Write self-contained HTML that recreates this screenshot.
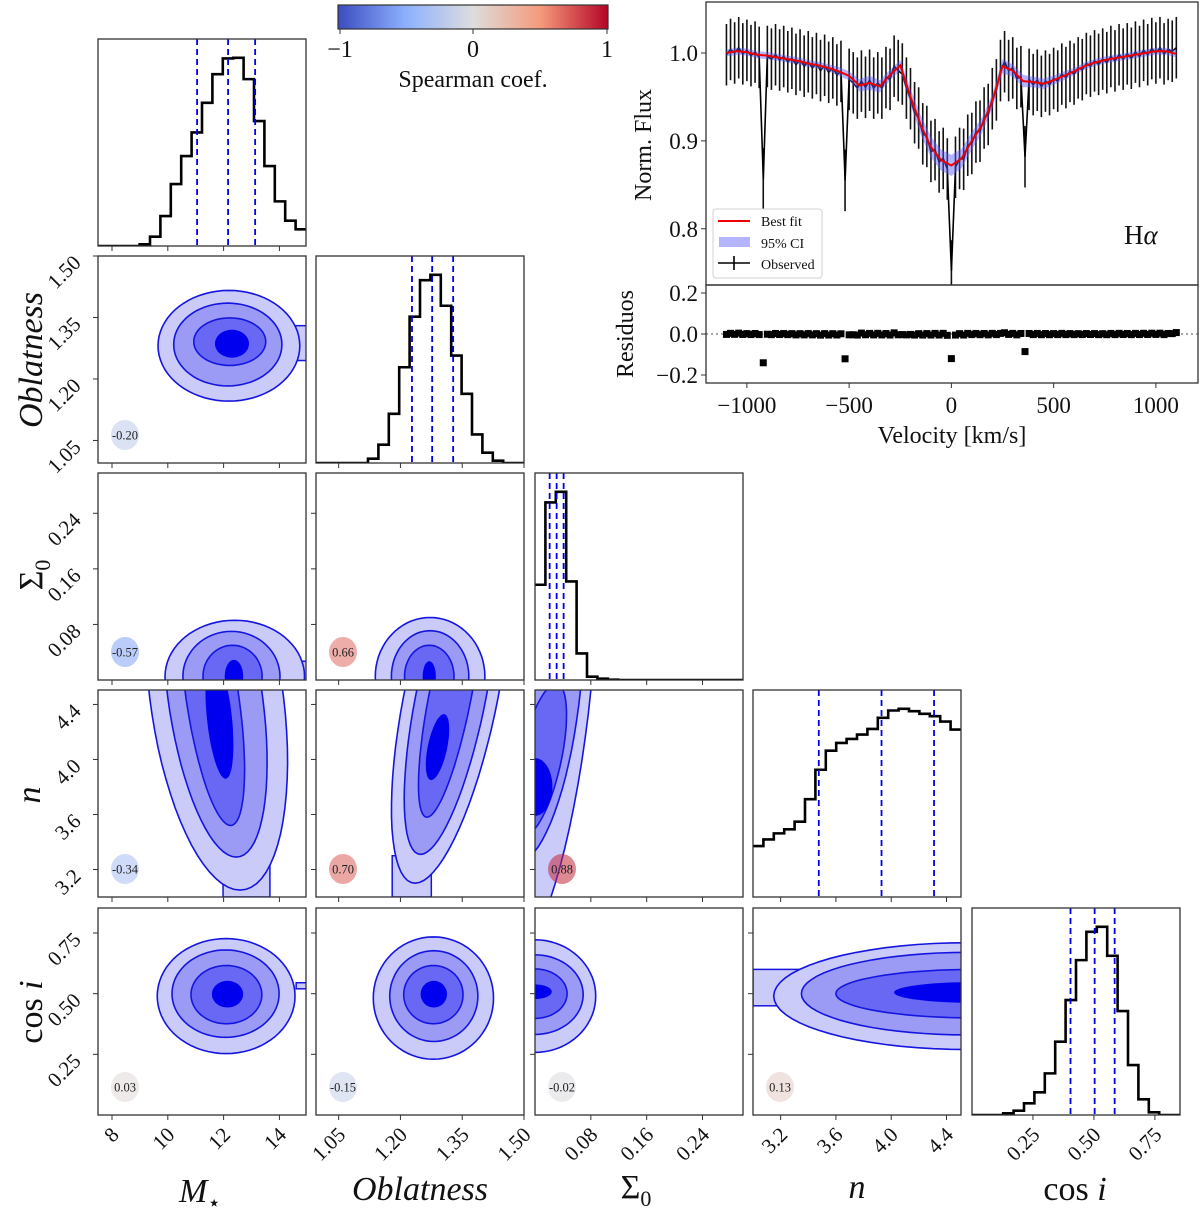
<!DOCTYPE html>
<html><head><meta charset="utf-8"><title>Corner plot</title>
<style>
html,body{margin:0;padding:0;background:#fff;}
svg{display:block;font-family:"Liberation Serif","DejaVu Serif",serif;}
</style></head>
<body>
<svg id="chart" xmlns="http://www.w3.org/2000/svg" width="1200" height="1209" viewBox="0 0 1200 1209">
<defs>
<linearGradient id="cwgrad" x1="0" x2="1" y1="0" y2="0">
<stop offset="0" stop-color="#3b4cc0"/><stop offset="0.25" stop-color="#8db0fe"/><stop offset="0.5" stop-color="#dddddd"/><stop offset="0.75" stop-color="#f49a7b"/><stop offset="1" stop-color="#b40426"/>
</linearGradient>
</defs>
</svg>
<script>
// ---------------- DATA ----------------
const params = ['mstar','obl','sig','n','cosi'];
const domMstar = [7.498, 14.953];
const domObl = [0.995, 1.5];
const domSig = [0.0, 0.298];
const domN = [3.0, 4.505];
const domCosi = [0.0, 0.853];

const histMstar = [0,0,0,0,5,28,90,186,270,341,430,516,563,565,501,375,240,134,76,50];
const histObl = [0,0,0,0,0,13,55,148,288,440,550,566,473,323,208,86,31,7,0,0];
const histSig = [287,535,567,297,80,10,4,1,0,0,0,0,0,0,0,0,0,0,0,0];
const histN = [152,172,190,202,225,292,380,437,460,472,485,502,535,557,562,555,547,540,524,500];
const histCosi = [0,0,0,5,13,35,68,125,220,345,465,550,565,478,312,150,47,8,0,0];

const qMstar = [11.05, 12.16, 13.13];
const qObl = [1.228, 1.277, 1.328];
const qSig = [0.021, 0.031, 0.041];
const qN = [3.476, 3.93, 4.31];
const qCosi = [0.404, 0.503, 0.585];

const ticksMstar = [8,10,12,14];
const tickLabelsMstar = ['8','10','12','14'];
const ticksObl = [1.05,1.20,1.35,1.50];
const tickLabelsObl = ['1.05','1.20','1.35','1.50'];
const ticksSig = [0.08,0.16,0.24];
const tickLabelsSig = ['0.08','0.16','0.24'];
const ticksN = [3.2,3.6,4.0,4.4];
const tickLabelsN = ['3.2','3.6','4.0','4.4'];
const ticksCosi = [0.25,0.50,0.75];
const tickLabelsCosi = ['0.25','0.50','0.75'];

// contour levels: [cx, cy, rx, ry, shear] outer -> core (data units)
const contMstarObl = [[12.19,1.281,2.54,0.135,0],[12.15,1.284,1.94,0.101,0],[12.22,1.291,1.29,0.058,0],[12.3,1.286,0.61,0.034,0]];
const tailMstarObl = [14.2,15.0,1.245,1.33];
const contMstarSig = [[12.4,0.005,2.5,0.081,0],[12.28,0.005,1.74,0.065,0],[12.32,0.005,1.06,0.045,0],[12.37,0.005,0.33,0.024,0]];
const tailMstarSig = [14.3,15.0,0.0,0.027];
const contOblSig = [[1.272,0.005,0.133,0.085,0],[1.272,0.005,0.094,0.066,0],[1.27,0.005,0.06,0.045,0],[1.27,0.005,0.016,0.022,0]];
const contMstarN = [[11.75,4.45,2.4,1.4,-0.6],[11.7,4.45,1.7,1.16,-0.65],[11.6,4.45,0.95,0.93,-0.7],[11.85,4.3,0.45,0.44,-0.5]];
const tailMstarN = [11.98,13.66,3.0,3.4];
const contOblN = [[1.322,4.45,0.115,1.35,0.064],[1.322,4.45,0.086,1.14,0.064],[1.32,4.45,0.052,0.87,0.064],[1.29,4.09,0.024,0.24,0.064]];
const tailOblN = [1.18,1.275,3.0,3.3];
const contSigN = [[0.0,4.5,0.08,2.0,0.02],[0.0,4.5,0.065,1.25,0.02],[0.008,4.0,0.03,0.55,0.04],[0.0,3.8,0.025,0.21,0]];
const contMstarCosi = [[12.09,0.49,2.47,0.237,0],[12.07,0.50,1.92,0.18,0],[12.1,0.496,1.27,0.12,0],[12.14,0.498,0.56,0.055,0]];
const tailMstarCosi = [14.6,15.0,0.52,0.545];
const contOblCosi = [[1.28,0.482,0.146,0.252,0],[1.281,0.49,0.107,0.187,0],[1.28,0.496,0.072,0.12,0],[1.281,0.498,0.032,0.055,0]];
const contSigCosi = [[0,0.49,0.087,0.232,0],[0,0.496,0.069,0.164,0],[0,0.5,0.046,0.102,0],[0,0.508,0.024,0.03,0]];
const contNCosi = [[4.55,0.49,1.4,0.22,0],[4.55,0.5,1.2,0.17,0],[4.6,0.5,1.0,0.1,0],[4.6,0.505,0.58,0.043,0]];
const tailNCosi = [3.0,3.7,0.45,0.60];

const corrValues = [-0.20,-0.57,0.66,-0.34,0.70,0.88,0.03,-0.15,-0.02,0.13];

// spectrum
const modelVel = [-1100,-1050,-1000,-950,-900,-850,-800,-750,-700,-650,-600,-550,-500,-450,-400,-350,-300,-250,-200,-150,-100,-50,0,50,100,150,200,250,300,350,400,450,500,550,600,650,700,750,800,850,900,950,1000,1050,1100];
const modelFlux = [1.000,1.002,1.001,0.998,0.997,0.995,0.993,0.991,0.988,0.986,0.983,0.979,0.974,0.963,0.966,0.962,0.975,0.986,0.950,0.918,0.893,0.878,0.872,0.880,0.900,0.918,0.945,0.985,0.980,0.968,0.967,0.965,0.969,0.974,0.979,0.985,0.989,0.992,0.994,0.996,0.998,1.000,1.002,1.002,0.999];
const ciHalf = [0.004,0.004,0.004,0.004,0.004,0.004,0.004,0.004,0.004,0.004,0.004,0.005,0.005,0.007,0.008,0.007,0.006,0.006,0.009,0.011,0.012,0.012,0.012,0.011,0.010,0.009,0.008,0.008,0.007,0.007,0.006,0.006,0.005,0.005,0.004,0.004,0.004,0.004,0.004,0.004,0.004,0.004,0.004,0.004,0.004];
const obsFlux = [0.998,1.004,1.000,1.006,0.999,1.003,0.997,1.001,0.995,0.857,0.996,0.993,0.998,0.992,0.996,0.990,0.994,0.987,0.992,0.985,0.990,0.983,0.988,0.980,0.986,0.978,0.983,0.975,0.979,0.855,0.970,0.966,0.960,0.968,0.961,0.969,0.960,0.966,0.960,0.972,0.970,0.985,0.980,0.976,0.960,0.948,0.932,0.926,0.908,0.905,0.888,0.890,0.876,0.880,0.868,0.752,0.870,0.880,0.879,0.895,0.897,0.910,0.911,0.926,0.930,0.948,0.958,0.980,0.990,0.980,0.983,0.971,0.973,0.882,0.970,0.964,0.969,0.962,0.968,0.964,0.971,0.968,0.976,0.972,0.979,0.976,0.983,0.981,0.988,0.985,0.991,0.987,0.993,0.989,0.996,0.991,0.998,0.993,0.999,0.994,1.001,0.996,1.003,0.998,1.005,1.000,1.006,0.999,1.004,1.002,1.006];
const obsVelStart = -1100, obsVelStep = 20;
const obsErr = 0.035;

// ---------------- HELPERS ----------------
const NS = 'http://www.w3.org/2000/svg';
const svg = document.getElementById('chart');
function el(tag, attrs, parent){
  const e = document.createElementNS(NS, tag);
  for (const k in attrs) e.setAttribute(k, attrs[k]);
  (parent || svg).appendChild(e);
  return e;
}
function lin(d0,d1,r0,r1){ return v => r0 + (v-d0)/(d1-d0)*(r1-r0); }
const doms = {mstar:domMstar, obl:domObl, sig:domSig, n:domN, cosi:domCosi};
const hists = {mstar:histMstar, obl:histObl, sig:histSig, n:histN, cosi:histCosi};
const quants = {mstar:qMstar, obl:qObl, sig:qSig, n:qN, cosi:qCosi};
const ticks = {mstar:ticksMstar, obl:ticksObl, sig:ticksSig, n:ticksN, cosi:ticksCosi};
const tickLabels = {mstar:tickLabelsMstar, obl:tickLabelsObl, sig:tickLabelsSig, n:tickLabelsN, cosi:tickLabelsCosi};
const colX = [98,316,535,753,972];
const rowY = [39,256,473,690,908];
const W = 208, H = 207;
const sx = (p,c) => lin(doms[p][0], doms[p][1], colX[c], colX[c]+W);
const sy = (p,r) => lin(doms[p][0], doms[p][1], rowY[r]+H, rowY[r]);
const levelFill = ['#cbcbfa','#9b9bf5','#6868f5','#0000ee'];
const lineCol = '#1515e0';

function coolwarm(v){
  const stops = [[-1,[59,76,192]],[-0.5,[141,176,254]],[0,[221,221,221]],[0.5,[244,154,123]],[1,[180,4,38]]];
  for (let i=0;i<stops.length-1;i++){
    const [a,ca] = stops[i], [b,cb] = stops[i+1];
    if (v>=a && v<=b){
      const t=(v-a)/(b-a);
      return 'rgb('+ca.map((c,j)=>Math.round(c+(cb[j]-c)*t)).join(',')+')';
    }
  }
  return 'rgb(221,221,221)';
}

// ---------------- COLORBAR ----------------
const cb = el('g', {});


const cbr = el('rect', {x:338, y:5, width:270, height:24, fill:'url(#cwgrad)', stroke:'#333', 'stroke-width':1.2}, cb);


[['−1',340],['0',473],['1',607]].forEach(([t,x])=>{
  el('line', {x1:x, y1:29, x2:x, y2:34, stroke:'#333', 'stroke-width':1}, cb);
  const tx = el('text', {x:x, y:57, 'font-size':24, 'text-anchor':'middle', fill:'#111'}, cb);
  tx.textContent = t;
  
  
});
const cbt = el('text', {x:473, y:87, 'font-size':24, 'text-anchor':'middle', fill:'#111'}, cb);
cbt.textContent = 'Spearman coef.';



// ---------------- CORNER PANELS ----------------
function panelFrame(r,c,g){
  const f = el('rect', {x:colX[c], y:rowY[r], width:W, height:H, fill:'none', stroke:'#333', 'stroke-width':1.3}, g);
  
  
}
function addClip(r,c){
  const id = 'clip'+r+'_'+c;
  const cp = el('clipPath', {id:id});
  el('rect', {x:colX[c], y:rowY[r], width:W, height:H}, cp);
  return 'url(#'+id+')';
}
function drawTicks(r,c,g){
  const px = params[c], xs = sx(px,c);
  ticks[px].forEach(v=>{
    const x = xs(v);
    el('line', {x1:x, y1:rowY[r]+H, x2:x, y2:rowY[r]+H+5, stroke:'#333', 'stroke-width':1}, g);
  });
  if (r!==c){
    const py = params[r], ys = sy(py,r);
    ticks[py].forEach(v=>{
      const y = ys(v);
      el('line', {x1:colX[c]-5, y1:y, x2:colX[c], y2:y, stroke:'#333', 'stroke-width':1}, g);
    });
  }
  if (r===4){
    ticks[px].forEach((v,i)=>{
      const x = xs(v);
      const t = el('text', {x:x+8, y:1136, 'font-size':21, 'text-anchor':'end', fill:'#111', transform:'rotate(-45 '+(x+8)+' 1136)'}, g);
      t.textContent = tickLabels[px][i];
      
      
    });
  }
  if (c===0 && r>0){
    const py = params[r], ys = sy(py,r);
    ticks[py].forEach((v,i)=>{
      const y = ys(v)+8;
      const t = el('text', {x:82, y:y, 'font-size':21, 'text-anchor':'end', fill:'#111', transform:'rotate(-45 82 '+y+')'}, g);
      t.textContent = tickLabels[py][i];
      
      
    });
  }
}

// histograms
params.forEach((p,i)=>{
  const g = el('g', {});
  
  
  const xs = sx(p,i);
  const h = hists[p];
  const mx = Math.max(...h)*1.1;
  const ys = lin(0, mx, rowY[i]+H, rowY[i]);
  const d0 = doms[p][0], bw = (doms[p][1]-doms[p][0])/h.length;
  let d = 'M'+xs(d0)+','+ys(h[0]);
  h.forEach((v,k)=>{
    d += ' H'+xs(d0+k*bw)+' V'+ys(v)+' H'+xs(d0+(k+1)*bw);
  });
  const clip = addClip(i,i);
  const path = el('path', {d:d, fill:'none', stroke:'#000', 'stroke-width':2.6, 'clip-path':clip}, g);
  
  
  quants[p].forEach(q=>{
    const x = xs(q);
    const ln = el('line', {x1:x, y1:rowY[i], x2:x, y2:rowY[i]+H, stroke:'#0000ee', 'stroke-width':1.8, 'stroke-dasharray':'6,4'}, g);
    
    
  });
  panelFrame(i,i,g);
  drawTicks(i,i,g);
});

// contour panels
const pairs = [
  {r:1,c:0,lv:contMstarObl,tail:tailMstarObl},
  {r:2,c:0,lv:contMstarSig,tail:tailMstarSig},
  {r:2,c:1,lv:contOblSig,tail:null},
  {r:3,c:0,lv:contMstarN,tail:tailMstarN},
  {r:3,c:1,lv:contOblN,tail:tailOblN},
  {r:3,c:2,lv:contSigN,tail:null},
  {r:4,c:0,lv:contMstarCosi,tail:tailMstarCosi},
  {r:4,c:1,lv:contOblCosi,tail:null},
  {r:4,c:2,lv:contSigCosi,tail:null},
  {r:4,c:3,lv:contNCosi,tail:tailNCosi}
];
pairs.forEach((pp,idx)=>{
  const {r,c,lv,tail} = pp;
  const g = el('g', {});
  
  
  const xs = sx(params[c],c), ys = sy(params[r],r);
  const clip = addClip(r,c);
  const cg = el('g', {'clip-path':clip}, g);
  if (tail){
    const tr = el('rect', {x:xs(tail[0]), y:ys(tail[3]), width:xs(tail[1])-xs(tail[0]), height:ys(tail[2])-ys(tail[3]), fill:levelFill[0], stroke:lineCol, 'stroke-width':1.5}, cg);
    
    
  }
  lv.forEach((L,k)=>{
    const [cx,cy,rx,ry,sh] = L;
    let d = '';
    for (let s=0;s<=72;s++){
      const t = s/72*2*Math.PI;
      const yv = cy + ry*Math.sin(t);
      const xv = cx + rx*Math.cos(t) + sh*(yv-cy);
      d += (s===0?'M':'L')+xs(xv).toFixed(1)+','+ys(yv).toFixed(1);
    }
    d += 'Z';
    const pth = el('path', {d:d, fill:levelFill[k], stroke:k===3?'none':lineCol, 'stroke-width':1.6}, cg);
    
    
  });
  const v = corrValues[idx];
  const bx = colX[c]+27, by = rowY[r]+H-28;
  const circ = el('ellipse', {cx:bx, cy:by, rx:14, ry:15, fill:coolwarm(v), 'fill-opacity':0.55}, g);
  
  
  const ct = el('text', {x:bx, y:by+4.5, 'font-size':12.5, 'text-anchor':'middle', fill:'#222'}, g);
  ct.textContent = v.toFixed(2);
  
  
  panelFrame(r,c,g);
  drawTicks(r,c,g);
});

// axis titles
function title(x,y,parts,rot,name){
  const t = el('text', {x:x, y:y, 'font-size':34, 'text-anchor':'middle', fill:'#111'});
  if (rot) t.setAttribute('transform','rotate(-90 '+x+' '+y+')');
  parts.forEach(([txt,style])=>{
    const s = el('tspan', {}, t);
    if (style==='i') s.setAttribute('font-style','italic');
    if (style==='sub'){ s.setAttribute('font-size','22'); s.setAttribute('dy','8'); }
    s.textContent = txt;
  });
  
  
}
title(200,1202,[['M','i'],['⋆','sub']],false,'x-axis-title-mstar');
title(420,1200,[['Oblatness','i']],false,'x-axis-title-oblatness');
title(636,1198,[['Σ',''],['0','sub']],false,'x-axis-title-sigma0');
title(857,1198,[['n','i']],false,'x-axis-title-n');
title(1075,1200,[['cos ',''],['i','i']],false,'x-axis-title-cosi');
title(42,360,[['Oblatness','i']],true,'y-axis-title-oblatness');
title(42,575,[['Σ',''],['0','sub']],true,'y-axis-title-sigma0');
title(40,795,[['n','i']],true,'y-axis-title-n');
title(42,1012,[['cos ',''],['i','i']],true,'y-axis-title-cosi');

// ---------------- SPECTRUM ----------------
const spec = el('g', {});


const SX0=706, SX1=1198, SY0=2, SY1=285, RY1=383;
const vx = lin(-1200, 1206, SX0, SX1);
const fy = lin(0.736, 1.058, SY1, SY0);
const rsy = lin(-0.239, 0.239, RY1, SY1);
const scp = el('clipPath', {id:'specclip'});
el('rect', {x:SX0, y:SY0, width:SX1-SX0, height:SY1-SY0}, scp);
const sg = el('g', {'clip-path':'url(#specclip)'}, spec);
const obsVel = obsFlux.map((_,i)=>obsVelStart+i*obsVelStep);
obsFlux.forEach((f,i)=>{
  const x = vx(obsVel[i]);
  const eb = el('line', {x1:x, y1:fy(f-obsErr), x2:x, y2:fy(f+obsErr), stroke:'#111', 'stroke-width':1.6}, sg);
  
  
});
const obsLine = el('path', {d:obsFlux.map((f,i)=>(i?'L':'M')+vx(obsVel[i]).toFixed(1)+','+fy(f).toFixed(1)).join(''), fill:'none', stroke:'#000', 'stroke-width':1.6}, sg);


let band = modelVel.map((v,i)=>(i?'L':'M')+vx(v).toFixed(1)+','+fy(modelFlux[i]+ciHalf[i]).toFixed(1)).join('');
for (let i=modelVel.length-1;i>=0;i--) band += 'L'+vx(modelVel[i]).toFixed(1)+','+fy(modelFlux[i]-ciHalf[i]).toFixed(1);
const bandEl = el('path', {d:band+'Z', fill:'rgba(90,90,255,0.45)', stroke:'none'}, sg);


const mLine = el('path', {d:modelVel.map((v,i)=>(i?'L':'M')+vx(v).toFixed(1)+','+fy(modelFlux[i]).toFixed(1)).join(''), fill:'none', stroke:'#ee0000', 'stroke-width':2}, sg);


const sf = el('rect', {x:SX0, y:SY0, width:SX1-SX0, height:SY1-SY0, fill:'none', stroke:'#333', 'stroke-width':1.3}, spec);


[[0.8,'0.8'],[0.9,'0.9'],[1.0,'1.0']].forEach(([v,l])=>{
  const y = fy(v);
  el('line', {x1:SX0-5, y1:y, x2:SX0, y2:y, stroke:'#333', 'stroke-width':1}, spec);
  const t = el('text', {x:SX0-8, y:y+8, 'font-size':23, 'text-anchor':'end', fill:'#111'}, spec);
  t.textContent = l;
  
  
});
const fyt = el('text', {x:651, y:145, 'font-size':24, 'text-anchor':'middle', fill:'#111', transform:'rotate(-90 651 145)'}, spec);
fyt.textContent = 'Norm. Flux';


const lg = el('g', {}, spec);


el('rect', {x:713, y:209, width:109, height:69, rx:3, fill:'#fff', 'fill-opacity':0.85, stroke:'#d0d0d0', 'stroke-width':1}, lg);
el('line', {x1:718, y1:221, x2:750, y2:221, stroke:'#ee0000', 'stroke-width':2}, lg);
el('rect', {x:719, y:237, width:31, height:10, fill:'rgba(90,90,255,0.45)'}, lg);
el('line', {x1:718, y1:263, x2:750, y2:263, stroke:'#000', 'stroke-width':1.6}, lg);
el('line', {x1:734, y1:256, x2:734, y2:270, stroke:'#000', 'stroke-width':1.6}, lg);
[['Best fit',226],['95% CI',248],['Observed',269]].forEach(([t,y])=>{
  const tx = el('text', {x:761, y:y, 'font-size':14, fill:'#111'}, lg);
  tx.textContent = t;
  
  
});
const ha = el('text', {x:1124, y:244, 'font-size':27, fill:'#111'}, spec);


const haH = el('tspan', {}, ha); haH.textContent = 'H';
const haA = el('tspan', {'font-style':'italic'}, ha); haA.textContent = 'α';

// residuals
const res = el('g', {});


function modelAt(v){
  for (let i=0;i<modelVel.length-1;i++){
    if (v>=modelVel[i] && v<=modelVel[i+1]){
      const t=(v-modelVel[i])/(modelVel[i+1]-modelVel[i]);
      return modelFlux[i]+(modelFlux[i+1]-modelFlux[i])*t;
    }
  }
  return modelFlux[modelFlux.length-1];
}
el('line', {x1:SX0, y1:rsy(0), x2:SX1, y2:rsy(0), stroke:'#777', 'stroke-width':1.3, 'stroke-dasharray':'2,3'}, res);
obsFlux.forEach((f,i)=>{
  const x = vx(obsVel[i]), y = rsy(f-modelAt(obsVel[i]));
  const sq = el('rect', {x:x-3.5, y:y-3.5, width:7, height:7, fill:'#000'}, res);
  
  
});
const rf = el('rect', {x:SX0, y:SY1, width:SX1-SX0, height:RY1-SY1, fill:'none', stroke:'#333', 'stroke-width':1.3}, res);


[[-0.2,'−0.2'],[0,'0.0'],[0.2,'0.2']].forEach(([v,l])=>{
  const y = rsy(v);
  el('line', {x1:SX0-5, y1:y, x2:SX0, y2:y, stroke:'#333', 'stroke-width':1}, res);
  const t = el('text', {x:SX0-8, y:y+8, 'font-size':23, 'text-anchor':'end', fill:'#111'}, res);
  t.textContent = l;
  
  
});
[[-1000,'−1000'],[-500,'−500'],[0,'0'],[500,'500'],[1000,'1000']].forEach(([v,l])=>{
  const x = vx(v);
  el('line', {x1:x, y1:RY1, x2:x, y2:RY1+5, stroke:'#333', 'stroke-width':1}, res);
  const t = el('text', {x:x, y:413, 'font-size':23, 'text-anchor':'middle', fill:'#111'}, res);
  t.textContent = l;
  
  
});
const rt = el('text', {x:633, y:334, 'font-size':24, 'text-anchor':'middle', fill:'#111', transform:'rotate(-90 633 334)'}, res);
rt.textContent = 'Residuos';


const vt = el('text', {x:952, y:443, 'font-size':24, 'text-anchor':'middle', fill:'#111'}, res);
vt.textContent = 'Velocity [km/s]';


</script>
</body></html>
